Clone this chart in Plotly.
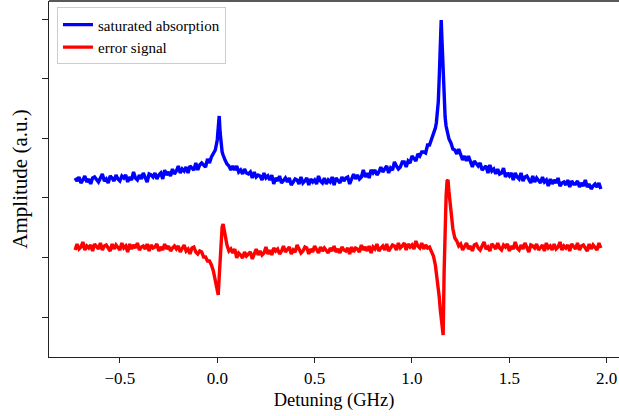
import plotly.graph_objects as go

# Detuning (GHz)
detuning = [
    -0.73, -0.72, -0.71, -0.70, -0.69, -0.68, -0.67, -0.66, -0.65, -0.64,
    -0.63, -0.62, -0.61, -0.60, -0.59, -0.58, -0.57, -0.56, -0.55, -0.54,
    -0.53, -0.52, -0.51, -0.50, -0.49, -0.48, -0.47, -0.46, -0.45, -0.44,
    -0.43, -0.42, -0.41, -0.40, -0.39, -0.38, -0.37, -0.36, -0.35, -0.34,
    -0.33, -0.32, -0.31, -0.30, -0.29, -0.28, -0.27, -0.26, -0.25, -0.24,
    -0.23, -0.22, -0.21, -0.20, -0.19, -0.18, -0.17, -0.16, -0.15, -0.14,
    -0.13, -0.12, -0.11, -0.10, -0.09, -0.08, -0.07, -0.06, -0.05, -0.04,
    -0.03,
    -0.02, -0.01, 0.0, 0.005, 0.01, 0.015, 0.02, 0.025, 0.03, 0.035, 0.04, 0.05,
    0.06, 0.07, 0.08, 0.09, 0.10, 0.11, 0.12, 0.13, 0.14, 0.15,
    0.16, 0.17, 0.18, 0.19, 0.20, 0.21, 0.22, 0.23, 0.24, 0.25,
    0.26, 0.27, 0.28, 0.29, 0.30, 0.31, 0.32, 0.33, 0.34, 0.35,
    0.36, 0.37, 0.38, 0.39, 0.40, 0.41, 0.42, 0.43, 0.44, 0.45,
    0.46, 0.47, 0.48, 0.49, 0.50, 0.51, 0.52, 0.53, 0.54, 0.55,
    0.56, 0.57, 0.58, 0.59, 0.60, 0.61, 0.62, 0.63, 0.64, 0.65,
    0.66, 0.67, 0.68, 0.69, 0.70, 0.71, 0.72, 0.73, 0.74, 0.75,
    0.76, 0.77, 0.78, 0.79, 0.80, 0.81, 0.82, 0.83, 0.84, 0.85,
    0.86, 0.87, 0.88, 0.89, 0.90, 0.91, 0.92, 0.93, 0.94, 0.95,
    0.96, 0.97, 0.98, 0.99, 1.00, 1.01, 1.02, 1.03, 1.04, 1.05,
    1.06, 1.07, 1.08, 1.09,
    1.10, 1.11, 1.12, 1.125, 1.13, 1.135, 1.14, 1.145, 1.15, 1.155,
    1.16, 1.165, 1.17, 1.175, 1.18, 1.185, 1.19, 1.20, 1.21, 1.22,
    1.23, 1.24, 1.25, 1.26, 1.27, 1.28, 1.29, 1.30, 1.31, 1.32,
    1.33, 1.34, 1.35, 1.36, 1.37, 1.38, 1.39, 1.40, 1.41, 1.42,
    1.43, 1.44, 1.45, 1.46, 1.47, 1.48, 1.49, 1.50, 1.51, 1.52,
    1.53, 1.54, 1.55, 1.56, 1.57, 1.58, 1.59, 1.60, 1.61, 1.62,
    1.63, 1.64, 1.65, 1.66, 1.67, 1.68, 1.69, 1.70, 1.71, 1.72,
    1.73, 1.74, 1.75, 1.76, 1.77, 1.78, 1.79, 1.80, 1.81, 1.82,
    1.83, 1.84, 1.85, 1.86, 1.87, 1.88, 1.89, 1.90, 1.91, 1.92,
    1.93, 1.94, 1.95, 1.96, 1.97,
]

# Saturated absorption signal (a.u.)
saturated_absorption = [
    139, 136, 140, 134, 137, 141, 135, 138, 133, 139,
    140, 137, 135, 139, 143, 136, 138, 134, 141, 139,
    136, 142, 138, 136, 141, 139, 142, 135, 140, 137,
    145, 139, 137, 142, 138, 144, 140, 135, 143, 142,
    140, 144, 138, 142, 144, 138, 147, 142, 145, 141,
    148, 143, 146, 151, 144, 148, 146, 150, 144, 151,
    149, 147, 154, 147, 152, 154, 152, 150, 158, 154,
    160,
    163, 167, 177, 190, 201, 184, 173, 165, 162, 158, 157, 153,
    151, 147, 151, 147, 151, 145, 147, 143, 148, 144,
    143, 145, 139, 145, 140, 142, 141, 137, 144, 139,
    141, 137, 142, 133, 139, 136, 141, 134, 137, 139,
    135, 139, 132, 135, 138, 137, 133, 140, 134, 136,
    139, 132, 138, 135, 137, 133, 141, 136, 134, 139,
    133, 137, 135, 140, 132, 139, 137, 134, 140, 136,
    139, 140, 133, 139, 143, 138, 142, 138, 140, 147,
    140, 144, 139, 147, 144, 147, 142, 145, 150, 145,
    148, 151, 144, 149, 147, 155, 151, 148, 150, 155,
    155, 150, 156, 154, 161, 158, 156, 163, 161, 165,
    165, 164, 172, 172,
    177, 182, 189, 194, 202, 215, 240, 272, 297, 272,
    240, 214, 200, 191, 185, 181, 178, 174, 168, 167,
    163, 168, 161, 157, 161, 156, 161, 156, 150, 156,
    154, 151, 154, 147, 149, 151, 144, 152, 146, 148,
    143, 148, 143, 144, 149, 140, 144, 141, 144, 137,
    144, 140, 138, 144, 136, 140, 141, 137, 134, 141,
    135, 139, 137, 134, 140, 135, 137, 131, 138, 133,
    137, 134, 139, 131, 134, 135, 132, 137, 130, 136,
    133, 133, 136, 130, 134, 131, 137, 130, 133, 128,
    131, 133, 130, 134, 128,
]

# Error signal (a.u.)
error_signal = [
    67, 73, 68, 70, 75, 67, 71, 69, 72, 66,
    73, 70, 68, 74, 67, 71, 72, 69, 66, 73,
    68, 72, 70, 67, 74, 69, 71, 65, 73, 68,
    72, 69, 74, 67, 70, 71, 68, 73, 66, 72,
    69, 70, 73, 66, 70, 67, 73, 68, 71, 66,
    69, 71, 68, 71, 65, 68, 72, 66, 68, 63,
    69, 70, 65, 63, 66, 65, 60, 60, 56, 56,
    52,
    46, 36, 25, 22, 40, 60, 78, 90, 93, 87, 80, 72,
    66, 68, 64, 68, 59, 64, 62, 59, 65, 61,
    63, 65, 58, 63, 68, 62, 66, 62, 64, 70,
    63, 67, 62, 69, 66, 68, 63, 66, 71, 65,
    68, 70, 63, 67, 65, 72, 68, 64, 66, 70,
    69, 63, 68, 65, 71, 67, 64, 70, 66, 69,
    67, 64, 69, 66, 71, 65, 68, 64, 70, 67,
    66, 69, 63, 70, 65, 69, 68, 65, 72, 67,
    70, 66, 71, 64, 70, 68, 73, 66, 69, 71,
    67, 73, 66, 69, 72, 71, 67, 74, 69, 71,
    74, 67, 73, 70, 72, 68, 76, 71, 69, 74,
    68, 72, 69, 70,
    66, 61, 52, 45, 38, 30, 20, 8, -4, -14,
    -18, 45, 90, 120, 136, 137, 125, 107, 88, 79,
    76, 71, 73, 67, 70, 74, 68, 71, 66, 72,
    73, 69, 67, 71, 75, 68, 70, 66, 73, 71,
    68, 74, 69, 67, 72, 70, 73, 66, 71, 68,
    75, 69, 67, 72, 68, 74, 70, 65, 72, 71,
    69, 73, 67, 70, 72, 66, 74, 69, 71, 67,
    73, 68, 70, 75, 67, 71, 69, 72, 66, 73,
    70, 68, 74, 67, 71, 72, 69, 66, 73, 68,
    72, 70, 67, 74, 69,
]

x_tick_vals = [-0.5, 0.0, 0.5, 1.0, 1.5, 2.0]
x_tick_text = ["\u22120.5", "0.0", "0.5", "1.0", "1.5", "2.0"]
y_tick_vals = [0, 59.6, 119.1, 178.7, 238.2, 297.8]

SERIF = "Liberation Serif, Times New Roman, serif"
AXIS_COLOR = "#222222"

fig = go.Figure()
fig.add_trace(go.Scatter(
    x=detuning, y=saturated_absorption, mode="lines", name="saturated absorption",
    line=dict(color="#0000ff", width=3.4),
))
fig.add_trace(go.Scatter(
    x=detuning, y=error_signal, mode="lines", name="error signal",
    line=dict(color="#ff0000", width=3.4),
))

fig.update_layout(
    width=619, height=416,
    margin=dict(l=49, r=0, t=1, b=59, autoexpand=False),
    paper_bgcolor="white", plot_bgcolor="white",
    font=dict(family=SERIF, size=17, color="black"),
    showlegend=True,
    legend=dict(
        x=0.014, y=0.982, xanchor="left", yanchor="top",
        bgcolor="rgba(255,255,255,0.8)", bordercolor="#cccccc", borderwidth=1,
        font=dict(family=SERIF, size=15, color="black"),
    ),
    xaxis=dict(
        range=[-0.864, 2.063], tickmode="array", tickvals=x_tick_vals, ticktext=x_tick_text,
        showgrid=False, zeroline=False, showline=True, linecolor=AXIS_COLOR, linewidth=1.3,
        ticks="outside", ticklen=5, tickwidth=1, tickcolor=AXIS_COLOR,
        tickfont=dict(family=SERIF, size=17), automargin=False,
        title=dict(text="Detuning (GHz)", font=dict(family=SERIF, size=18.5), standoff=6),
    ),
    yaxis=dict(
        range=[-40, 316], tickmode="array", tickvals=y_tick_vals, showticklabels=False,
        showgrid=False, zeroline=False, showline=True, linecolor=AXIS_COLOR, linewidth=1.3,
        ticks="outside", ticklen=6, tickwidth=1, tickcolor=AXIS_COLOR, automargin=False,
        title=dict(text="Amplitude (a.u.)", font=dict(family=SERIF, size=21), standoff=8),
    ),
    shapes=[dict(type="line", xref="paper", yref="paper", x0=0, x1=1, y0=1, y1=1,
                 line=dict(color=AXIS_COLOR, width=1.3))],
)

fig.write_html("out.html", config={"displayModeBar": False},
               post_script="document.body.style.margin='0';")
